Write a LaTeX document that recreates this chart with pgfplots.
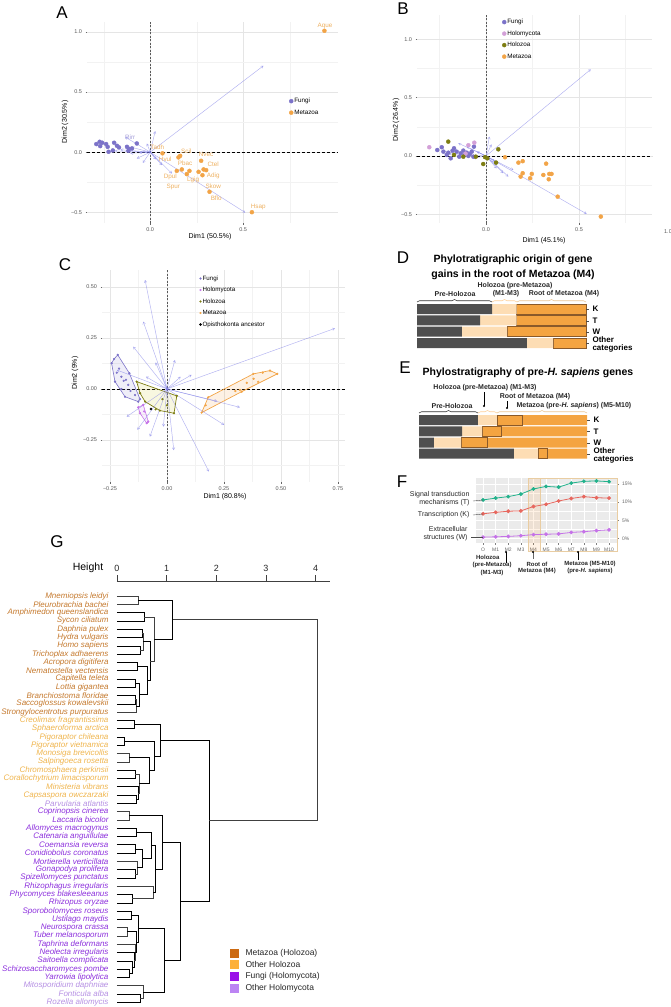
\documentclass[border=0pt]{standalone}
\usepackage{pgfplots}
\pgfplotsset{compat=1.18}
\usepackage{fontspec}
\setmainfont{Liberation Sans}
\usetikzlibrary{arrows.meta,decorations.pathreplacing}
\definecolor{fungi}{HTML}{7B72C8}
\definecolor{holomy}{HTML}{D3A0D8}
\definecolor{holozoa}{HTML}{7D7D12}
\definecolor{metazoa}{HTML}{F2A447}
\definecolor{metalab}{HTML}{EDB060}
\definecolor{arrowc}{HTML}{7C7CE6}
\definecolor{darkbar}{HTML}{4F4F4F}
\definecolor{peach}{HTML}{FDDDB4}
\definecolor{orbar}{HTML}{F4A441}
\definecolor{edgebr}{HTML}{8A5A2A}
\definecolor{tanbox}{HTML}{E9CDA2}
\definecolor{lgreen}{HTML}{22B28C}
\definecolor{lred}{HTML}{E7675E}
\definecolor{lpurp}{HTML}{C572E8}
\definecolor{gMeta}{HTML}{C4782C}
\definecolor{gOHol}{HTML}{EFB44C}
\definecolor{gFun}{HTML}{8B2EDC}
\definecolor{gOHm}{HTML}{B58FE3}
\definecolor{sqMeta}{HTML}{CC6A12}
\definecolor{sqOHol}{HTML}{FDB03A}
\definecolor{sqFun}{HTML}{9A10E8}
\definecolor{sqOHm}{HTML}{BC84F3}
\definecolor{dendro}{HTML}{404040}
\tikzset{lf/.style={anchor=east, xshift=-5pt, font=\fontsize{8}{8}\selectfont\itshape}}
\pgfplotsset{
 pca/.style={scale only axis, anchor=south west, clip=false,
  axis lines*=left, axis line style={draw=none},
  grid=both, major grid style={draw=black!10,line width=0.45pt},
  minor grid style={draw=black!5,line width=0.3pt},
  tick align=outside, major tick length=1.5pt, minor tick length=0pt,
  tick style={draw=black!60,line width=0.4pt},
  tick label style={font=\fontsize{5.5}{6}\selectfont, text=black!65},
  /pgf/number format/assume math mode=true,
  legend cell align=left,
  legend image code/.code={\draw[mark repeat=2,mark phase=2,##1] plot coordinates {(0cm,0cm) (0.08cm,0cm) (0.16cm,0cm)};},
  legend style={draw=none, fill=none, anchor=north west, inner sep=0pt, row sep=3.5pt,
    font=\fontsize{6.3}{7}\selectfont,
    nodes={inner sep=1pt, text height=4.6pt, text depth=1.4pt}},
 },
 arr/.style={forget plot, arrowc, opacity=0.6, line width=0.45pt, -{Straight Barb[length=2.2pt,width=2.6pt]}},
 ptm/.style={only marks, mark=*, mark size=2pt, mark options={solid}},
 zeroh/.style={forget plot, black, line width=0.6pt, dash pattern=on 3pt off 2pt},
 zerov/.style={forget plot, black!65, line width=0.9pt, dash pattern=on 2pt off 1.5pt},
}
\begin{document}
\begin{tikzpicture}
\useasboundingbox (0,0) rectangle (670pt,-1007pt);

% ---------------- Panel A ----------------
\begin{axis}[pca, at={(87pt,-223pt)}, width=251pt, height=201pt,
 xmin=-0.34, xmax=1.01, ymin=-0.59, ymax=1.083,
 xtick={0,0.5}, xticklabels={0.0,0.5}, minor xtick={-0.25,0.25,0.75},
 ytick={-0.5,0,0.5,1}, yticklabels={−0.5,0.0,0.5,1.0}, minor ytick={-0.25,0.25,0.75},
 legend style={at={(0.805,0.627)}}]
\addplot[zeroh] coordinates {(-0.34,0) (1.01,0)};
\addplot[zerov] coordinates {(0,-0.59) (0,1.083)};
\addplot[arr] coordinates {(0,0) (0.609,0.719)};
\addplot[arr] coordinates {(0,0) (0.511,-0.503)};
\addplot[arr] coordinates {(0,0) (-0.134,0.125)};
\addplot[arr] coordinates {(0,0) (-0.107,-0.01)};
\addplot[arr] coordinates {(0,0) (-0.072,-0.053)};
\addplot[arr] coordinates {(0,0) (0.027,0.175)};
\addplot[arr] coordinates {(0,0) (0.063,-0.108)};
\addplot[arr] coordinates {(0,0) (0.117,-0.178)};
\addplot[arr] coordinates {(0,0) (-0.018,0.072)};
\addplot[arr] coordinates {(0,0) (-0.06,-0.005)};
\addplot[arr] coordinates {(0,0) (-0.16,0.02)};
\addplot[arr] coordinates {(0,0) (-0.1,0.04)};
\addplot[arr] coordinates {(0,0) (-0.04,-0.09)};
\addplot[arr] coordinates {(0,0) (0.03,-0.06)};
\addplot[arr] coordinates {(0,0) (-0.19,0.01)};
\addplot[ptm, fungi] coordinates {(-0.290,0.067) (-0.272,0.086) (-0.258,0.078) (-0.269,0.05) (-0.237,0.067) (-0.229,0.044) (-0.194,0.078) (-0.179,0.053) (-0.168,0.039) (-0.125,0.044) (-0.115,0.028) (-0.072,0.072) (-0.224,0.003) (-0.201,0.014) (-0.117,0.011) (-0.098,0.031)};
\addlegendentry{Fungi}
\addplot[ptm, metazoa] coordinates {(0.066,-0.01) (0.152,-0.044) (0.161,-0.031) (0.274,-0.072) (0.143,-0.156) (0.17,-0.144) (0.197,-0.183) (0.211,-0.156) (0.26,-0.164) (0.287,-0.144) (0.301,-0.15) (0.281,-0.192) (0.319,-0.33) (0.547,-0.50) (0.937,1.01)};
\addlegendentry{Metazoa}
\begin{scope}[font=\fontsize{6.3}{7}\selectfont, text=metalab]
\node at (axis cs:0.94,1.05) {Aque};
\node at (axis cs:0.194,0.008) {Scil};
\node at (axis cs:0.30,-0.017) {Nvec};
\node at (axis cs:0.339,-0.1) {Ctel};
\node at (axis cs:0.188,-0.092) {Pbac};
\node at (axis cs:0.081,-0.058) {Hvul};
\node at (axis cs:0.038,0.042) {Tadh};
\node at (axis cs:0.108,-0.208) {Dpul};
\node at (axis cs:0.124,-0.29) {Spur};
\node at (axis cs:0.231,-0.233) {Lgig};
\node at (axis cs:0.339,-0.2) {Adig};
\node at (axis cs:0.339,-0.283) {Skow};
\node at (axis cs:0.355,-0.383) {Bflo};
\node at (axis cs:0.581,-0.458) {Hsap};
\node[text=fungi!70] at (axis cs:-0.108,0.125) {Rirr};
\end{scope}
\end{axis}

% ---------------- Panel B ----------------
\begin{axis}[pca, at={(417pt,-223pt)}, width=235pt, height=208pt,
 xmin=-0.371, xmax=0.892, ymin=-0.575, ymax=1.209,
 xtick={0,0.5}, xticklabels={0.0,0.5}, minor xtick={-0.25,0.25,0.75},
 ytick={-0.5,0,0.5,1}, yticklabels={−0.5,0.0,0.5,1.0}, minor ytick={-0.25,0.25,0.75},
 legend style={at={(0.362,0.986)}}]
\addplot[zeroh] coordinates {(-0.371,0) (0.892,0)};
\addplot[zerov] coordinates {(0,-0.575) (0,1.209)};
\addplot[arr] coordinates {(0,0) (0.563,0.743)};
\addplot[arr] coordinates {(0,0) (0.541,-0.497)};
\addplot[arr] coordinates {(0,0) (0.018,0.166)};
\addplot[arr] coordinates {(0,0) (-0.149,0.109)};
\addplot[arr] coordinates {(0,0) (0.057,-0.106)};
\addplot[arr] coordinates {(0,0) (0.12,-0.177)};
\addplot[arr] coordinates {(0,0) (0.147,-0.12)};
\addplot[arr] coordinates {(0,0) (0.048,-0.049)};
\addplot[arr] coordinates {(0,0) (-0.104,0.08)};
\addplot[arr] coordinates {(0,0) (-0.05,0.037)};
\addplot[arr] coordinates {(0,0) (0.093,-0.148)};
\addplot[arr] coordinates {(0,0) (-0.2,0.02)};
\addplot[arr] coordinates {(0,0) (-0.07,-0.02)};
\addplot[arr] coordinates {(0,0) (0.03,0.1)};
\addplot[ptm, fungi] coordinates {(-0.262,0.051) (-0.238,0.075) (-0.229,0.037) (-0.203,0.028) (-0.172,0.066) (-0.158,0.037) (-0.136,0.023) (-0.122,0.046) (-0.104,0.028) (-0.086,0.017) (-0.077,0.037) (-0.19,-0.02) (-0.211,0.009) (-0.068,-0.006) (-0.144,-0.006) (-0.065,0.08) (-0.18,0.045) (-0.115,0.01) (-0.095,0.0)};
\addlegendentry{Fungi}
\addplot[ptm, holomy] coordinates {(-0.305,0.075) (-0.095,0.092) (-0.063,0.114) (-0.11,0.02)};
\addlegendentry{Holomycota}
\addplot[ptm, holozoa] coordinates {(-0.203,0.123) (-0.172,0.009) (-0.122,-0.006) (-0.055,-0.006) (-0.015,-0.069) (0.007,-0.02) (0.066,0.057) (0.054,-0.057) (-0.005,-0.01)};
\addlegendentry{Holozoa}
\addplot[ptm, metazoa] coordinates {(0.102,-0.011) (0.174,-0.057) (0.197,-0.045) (0.323,-0.066) (0.197,-0.148) (0.246,-0.154) (0.186,-0.177) (0.237,-0.191) (0.308,-0.163) (0.34,-0.154) (0.352,-0.154) (0.337,-0.2) (0.385,-0.349) (0.617,-0.52)};
\addlegendentry{Metazoa}
\end{axis}

% ---------------- Panel C ----------------
\begin{axis}[pca, at={(102pt,-482pt)}, width=243pt, height=212pt,
 xmin=-0.285, xmax=0.781, ymin=-0.456, ymax=0.583,
 xtick={-0.25,0,0.25,0.5,0.75}, xticklabels={−0.25,0.00,0.25,0.50,0.75}, minor xtick={-0.125,0.125,0.375,0.625},
 ytick={-0.25,0,0.25,0.5}, yticklabels={−0.25,0.00,0.25,0.50}, minor ytick={-0.375,-0.125,0.125,0.375},
 legend style={at={(0.40,0.98)}, font=\fontsize{6.2}{7}\selectfont}]
\addplot[zeroh] coordinates {(-0.285,0) (0.781,0)};
\addplot[zerov] coordinates {(0,-0.456) (0,0.583)};
\addplot[forget plot, draw=fungi, fill=fungi, fill opacity=0.12, line width=0.6pt] coordinates {(-0.243,0.126) (-0.232,0.147) (-0.216,0.167) (-0.165,0.077) (-0.118,-0.05) (-0.126,-0.062) (-0.184,-0.038) (-0.228,0.036) (-0.243,0.126)};
\addplot[forget plot, draw=lpurp, fill=lpurp, fill opacity=0.12, line width=0.6pt] coordinates {(-0.126,-0.09) (-0.104,-0.078) (-0.082,-0.16) (-0.089,-0.168) (-0.118,-0.119) (-0.126,-0.09)};
\addplot[forget plot, draw=holozoa, fill=yellow!60!holozoa, fill opacity=0.15, line width=0.7pt] coordinates {(-0.133,0.036) (0.043,-0.034) (0.031,-0.119) (-0.031,-0.106) (-0.096,-0.062) (-0.118,-0.021) (-0.133,0.036)};
\addplot[forget plot, draw=metazoa, fill=metazoa, fill opacity=0.15, line width=0.7pt] coordinates {(0.152,-0.116) (0.181,-0.041) (0.379,0.074) (0.452,0.09) (0.484,0.074) (0.328,-0.013) (0.152,-0.116)};
\addplot[arr] coordinates {(0,0) (-0.096,0.534)};
\addplot[arr] coordinates {(0,0) (-0.104,0.33)};
\addplot[arr] coordinates {(0,0) (-0.148,0.207)};
\addplot[arr] coordinates {(0,0) (0.737,0.297)};
\addplot[arr] coordinates {(0,0) (0.108,0.069)};
\addplot[arr] coordinates {(0,0) (0.035,0.142)};
\addplot[arr] coordinates {(0,0) (-0.092,0.06)};
\addplot[arr] coordinates {(0,0) (0.32,-0.09)};
\addplot[arr] coordinates {(0,0) (0.251,-0.176)};
\addplot[arr] coordinates {(0,0) (0.184,-0.405)};
\addplot[arr] coordinates {(0,0) (-0.075,-0.234)};
\addplot[arr] coordinates {(0,0) (-0.177,-0.136)};
\addplot[arr] coordinates {(0,0) (-0.016,-0.185)};
\addplot[arr] coordinates {(0,0) (-0.22,0.093)};
\addplot[arr] coordinates {(0,0) (0.06,0.06)};
\addplot[arr] coordinates {(0,0) (-0.05,0.13)};
\addplot[arr] coordinates {(0,0) (0.03,-0.3)};
\addplot[arr] coordinates {(0,0) (-0.13,-0.2)};
\addplot[arr] coordinates {(0,0) (0.22,-0.06)};
\addplot[ptm, fungi, mark size=0.9pt] coordinates {(-0.232,0.147) (-0.216,0.167) (-0.165,0.077) (-0.118,-0.05) (-0.126,-0.062) (-0.184,-0.038) (-0.228,0.036) (-0.243,0.126) (-0.2,0.06) (-0.19,0.04) (-0.18,0.045) (-0.21,0.1) (-0.16,-0.01) (-0.14,-0.03) (-0.2,0.0) (-0.22,0.08) (-0.17,0.02)};
\addlegendentry{Fungi}
\addplot[ptm, lpurp, mark size=0.9pt] coordinates {(-0.126,-0.09) (-0.104,-0.078) (-0.082,-0.16) (-0.089,-0.168) (-0.118,-0.119) (-0.1,-0.11)};
\addlegendentry{Holomycota}
\addplot[ptm, holozoa, mark size=0.9pt] coordinates {(-0.133,0.036) (0.043,-0.034) (0.031,-0.119) (-0.031,-0.106) (-0.096,-0.062) (-0.118,-0.021) (-0.05,-0.1) (0.0,-0.08) (-0.02,-0.05)};
\addlegendentry{Holozoa}
\addplot[ptm, metazoa, mark size=0.9pt] coordinates {(0.152,-0.116) (0.181,-0.041) (0.379,0.074) (0.452,0.09) (0.484,0.074) (0.328,-0.013) (0.17,-0.08) (0.35,0.03) (0.38,0.05) (0.4,0.035) (0.3,-0.01) (0.42,0.08) (0.32,-0.005)};
\addlegendentry{Metazoa}
\addplot[ptm, black, mark size=1.1pt] coordinates {(-0.07,-0.098)};
\addlegendentry{Opisthokonta ancestor}
\end{axis}

% ---------------- Panel D ----------------
\begin{axis}[at={(417pt,-349pt)}, anchor=south west, scale only axis, width=169pt, height=46pt,
 xmin=0, xmax=100, ymin=0.47, ymax=4.53, y dir=reverse, hide axis, xbar stacked, bar width=10pt, clip=false]
\addplot[fill=darkbar, draw=none] coordinates {(44.4,1) (37.3,2) (26.6,3) (65.0,4)};
\addplot[fill=peach, draw=none] coordinates {(14.6,1) (21.7,2) (26.7,3) (15.5,4)};
\addplot[fill=orbar, draw=edgebr, line width=0.6pt] coordinates {(41.0,1) (41.0,2) (46.7,3) (19.5,4)};
\end{axis}

% ---------------- Panel E ----------------
\begin{axis}[at={(419pt,-459.3pt)}, anchor=south west, scale only axis, width=168pt, height=44.8pt,
 xmin=0, xmax=100, ymin=0.5, ymax=4.5, y dir=reverse, hide axis, xbar stacked, bar width=10pt, clip=false]
\addplot[fill=darkbar, draw=none] coordinates {(35.1,1) (25.6,2) (8.9,3) (56.5,4)};
\addplot[fill=peach, draw=none] coordinates {(11.3,1) (11.9,2) (16.1,3) (14.3,4)};
\addplot[fill=orbar, draw=edgebr, line width=0.6pt] coordinates {(14.9,1) (11.3,2) (15.5,3) (5.4,4)};
\addplot[fill=orbar, draw=none] coordinates {(38.7,1) (51.2,2) (59.5,3) (23.8,4)};
\end{axis}

% ---------------- Panel F ----------------
\begin{axis}[at={(476pt,-543pt)}, anchor=south west, scale only axis, width=141pt, height=65pt,
 xmin=-0.56, xmax=10.63, ymin=-1.2, ymax=16.6, clip=false,
 axis background/.style={fill=black!8}, axis line style={draw=none},
 grid=both, major grid style={white, line width=0.6pt}, minor grid style={white, line width=0.3pt},
 xtick={0,1,2,3,4,5,6,7,8,9,10}, xticklabels={O,M1,M2,M3,M4,M5,M6,M7,M8,M9,M10},
 ytick={0,5,10,15}, yticklabels={0\%,5\%,10\%,15\%}, minor ytick={2.5,7.5,12.5},
 xtick pos=left, ytick pos=right, yticklabel pos=right,
 tick align=outside, major tick length=1.5pt, minor tick length=0pt, tick style={black!50, line width=0.4pt},
 tick label style={font=\fontsize{5}{5}\selectfont, text=black!60},
 /pgf/number format/assume math mode=true]
\draw[tanbox, line width=0.8pt, fill=orange, fill opacity=0.10] (axis cs:3.57,16.6) rectangle (axis cs:4.52,-3.6);
\draw[tanbox, line width=0.8pt] (axis cs:4.52,16.6) rectangle (axis cs:10.63,-3.6);
\addplot[lgreen, line width=0.8pt, mark=*, mark size=1.5pt] coordinates {(0,10.6) (1,11.1) (2,11.5) (3,12.2) (4,13.6) (5,14.3) (6,14.1) (7,15.2) (8,15.7) (9,15.8) (10,15.6)};
\addplot[lred, line width=0.8pt, mark=*, mark size=1.5pt] coordinates {(0,6.8) (1,7.2) (2,7.5) (3,7.6) (4,8.8) (5,9.4) (6,10.3) (7,11.0) (8,11.5) (9,11.2) (10,11.1)};
\addplot[lpurp, line width=0.8pt, mark=*, mark size=1.5pt] coordinates {(0,0.4) (1,0.5) (2,0.6) (3,0.8) (4,1.1) (5,1.2) (6,1.3) (7,1.7) (8,1.9) (9,2.2) (10,2.4)};
\end{axis}

% ---------------- Panel G ----------------
\begin{axis}[at={(117pt,-1006pt)}, anchor=south west, scale only axis, width=213pt, height=425pt,
 xmin=0, xmax=4.29, ymin=-50.46, ymax=0.81, clip=false,
 axis x line*=top, axis y line=none, axis line style={black!75, line width=0.6pt, -},
 xtick={0,1,2,3,4}, tick align=outside, major tick length=6pt, tick style={black!75, line width=0.6pt},
 tick label style={font=\fontsize{9}{9}\selectfont, text=black!85},
 /pgf/number format/assume math mode=true,
 cycle list={{dendro, line width=0.6pt, mark=none, solid}}]
\addplot coordinates {(0,-1) (0.43,-1) (0.43,-2) (0,-2)};
\addplot coordinates {(0,-3) (0.54,-3) (0.54,-4) (0,-4)};
\addplot coordinates {(0,-5) (0.50,-5) (0.50,-6) (0,-6)};
\addplot coordinates {(0,-7) (0.46,-7) (0.46,-8) (0,-8)};
\addplot coordinates {(0.50,-5.5) (0.52,-5.5) (0.52,-7.5) (0.46,-7.5)};
\addplot coordinates {(0,-9) (0.41,-9) (0.41,-10) (0,-10)};
\addplot coordinates {(0,-11) (0.37,-11) (0.37,-12) (0,-12)};
\addplot coordinates {(0,-13) (0.36,-13) (0.36,-14) (0,-14)};
\addplot coordinates {(0.36,-13.5) (0.38,-13.5) (0.38,-15) (0,-15)};
\addplot coordinates {(0.37,-11.5) (0.45,-11.5) (0.45,-14.25) (0.38,-14.25)};
\addplot coordinates {(0.41,-9.5) (0.60,-9.5) (0.60,-12.875) (0.45,-12.875)};
\addplot coordinates {(0.52,-6.5) (0.665,-6.5) (0.665,-11.1875) (0.60,-11.1875)};
\addplot coordinates {(0.54,-3.5) (0.746,-3.5) (0.746,-8.844) (0.665,-8.844)};
\addplot coordinates {(0.43,-1.5) (1.12,-1.5) (1.12,-6.172) (0.746,-6.172)};
\addplot coordinates {(0,-16) (0.35,-16) (0.35,-17) (0,-17)};
\addplot coordinates {(0,-18) (0.15,-18) (0.15,-19) (0,-19)};
\addplot coordinates {(0,-20) (0.25,-20) (0.25,-21) (0,-21)};
\addplot coordinates {(0,-22) (0.36,-22) (0.36,-23) (0,-23)};
\addplot coordinates {(0,-25) (0.38,-25) (0.38,-26) (0,-26)};
\addplot coordinates {(0,-24) (0.42,-24) (0.42,-25.5) (0.38,-25.5)};
\addplot coordinates {(0.36,-22.5) (0.45,-22.5) (0.45,-24.75) (0.42,-24.75)};
\addplot coordinates {(0.25,-20.5) (0.645,-20.5) (0.645,-23.625) (0.45,-23.625)};
\addplot coordinates {(0.15,-18.5) (0.75,-18.5) (0.75,-22.0625) (0.645,-22.0625)};
\addplot coordinates {(0.35,-16.5) (0.88,-16.5) (0.88,-20.281) (0.75,-20.281)};
\addplot coordinates {(0,-27) (0.25,-27) (0.25,-28) (0,-28)};
\addplot coordinates {(0,-29) (0.38,-29) (0.38,-30) (0,-30)};
\addplot coordinates {(0,-31) (0.36,-31) (0.36,-32) (0,-32)};
\addplot coordinates {(0,-34) (0.37,-34) (0.37,-35) (0,-35)};
\addplot coordinates {(0,-33) (0.41,-33) (0.41,-34.5) (0.37,-34.5)};
\addplot coordinates {(0.36,-31.5) (0.50,-31.5) (0.50,-33.75) (0.41,-33.75)};
\addplot coordinates {(0.38,-29.5) (0.68,-29.5) (0.68,-32.625) (0.50,-32.625)};
\addplot coordinates {(0,-37) (0.31,-37) (0.31,-38) (0,-38)};
\addplot coordinates {(0,-36) (0.72,-36) (0.72,-37.5) (0.31,-37.5)};
\addplot coordinates {(0.68,-31.0625) (0.78,-31.0625) (0.78,-36.75) (0.72,-36.75)};
\addplot coordinates {(0.25,-27.5) (0.92,-27.5) (0.92,-33.906) (0.78,-33.906)};
\addplot coordinates {(0,-39) (0.28,-39) (0.28,-40) (0,-40)};
\addplot coordinates {(0,-41) (0.20,-41) (0.20,-42) (0,-42)};
\addplot coordinates {(0,-46) (0.25,-46) (0.25,-47) (0,-47)};
\addplot coordinates {(0,-45) (0.31,-45) (0.31,-46.5) (0.25,-46.5)};
\addplot coordinates {(0,-44) (0.35,-44) (0.35,-45.75) (0.31,-45.75)};
\addplot coordinates {(0,-43) (0.37,-43) (0.37,-44.875) (0.35,-44.875)};
\addplot coordinates {(0.20,-41.5) (0.39,-41.5) (0.39,-43.9375) (0.37,-43.9375)};
\addplot coordinates {(0.28,-39.5) (0.42,-39.5) (0.42,-42.719) (0.39,-42.719)};
\addplot coordinates {(0,-49) (0.46,-49) (0.46,-50) (0,-50)};
\addplot coordinates {(0,-48) (0.53,-48) (0.53,-49.5) (0.46,-49.5)};
\addplot coordinates {(0.42,-41.109) (0.95,-41.109) (0.95,-48.75) (0.53,-48.75)};
\addplot coordinates {(0.92,-30.703) (1.28,-30.703) (1.28,-44.93) (0.95,-44.93)};
\addplot coordinates {(0.88,-18.39) (1.86,-18.39) (1.86,-37.816) (1.28,-37.816)};
\addplot coordinates {(1.12,-3.836) (4.04,-3.836) (4.04,-28.103) (1.86,-28.103)};
\node[lf, text=gMeta] at (axis cs:0,-1) {Mnemiopsis leidyi};
\node[lf, text=gMeta] at (axis cs:0,-2) {Pleurobrachia bachei};
\node[lf, text=gMeta] at (axis cs:0,-3) {Amphimedon queenslandica};
\node[lf, text=gMeta] at (axis cs:0,-4) {Sycon ciliatum};
\node[lf, text=gMeta] at (axis cs:0,-5) {Daphnia pulex};
\node[lf, text=gMeta] at (axis cs:0,-6) {Hydra vulgaris};
\node[lf, text=gMeta] at (axis cs:0,-7) {Homo sapiens};
\node[lf, text=gMeta] at (axis cs:0,-8) {Trichoplax adhaerens};
\node[lf, text=gMeta] at (axis cs:0,-9) {Acropora digitifera};
\node[lf, text=gMeta] at (axis cs:0,-10) {Nematostella vectensis};
\node[lf, text=gMeta] at (axis cs:0,-11) {Capitella teleta};
\node[lf, text=gMeta] at (axis cs:0,-12) {Lottia gigantea};
\node[lf, text=gMeta] at (axis cs:0,-13) {Branchiostoma floridae};
\node[lf, text=gMeta] at (axis cs:0,-14) {Saccoglossus kowalevskii};
\node[lf, text=gMeta] at (axis cs:0,-15) {Strongylocentrotus purpuratus};
\node[lf, text=gOHol] at (axis cs:0,-16) {Creolimax fragrantissima};
\node[lf, text=gOHol] at (axis cs:0,-17) {Sphaeroforma arctica};
\node[lf, text=gOHol] at (axis cs:0,-18) {Pigoraptor chileana};
\node[lf, text=gOHol] at (axis cs:0,-19) {Pigoraptor vietnamica};
\node[lf, text=gOHol] at (axis cs:0,-20) {Monosiga brevicollis};
\node[lf, text=gOHol] at (axis cs:0,-21) {Salpingoeca rosetta};
\node[lf, text=gOHol] at (axis cs:0,-22) {Chromosphaera perkinsii};
\node[lf, text=gOHol] at (axis cs:0,-23) {Corallochytrium limacisporum};
\node[lf, text=gOHol] at (axis cs:0,-24) {Ministeria vibrans};
\node[lf, text=gOHol] at (axis cs:0,-25) {Capsaspora owczarzaki};
\node[lf, text=gOHm] at (axis cs:0,-26) {Parvularia atlantis};
\node[lf, text=gFun] at (axis cs:0,-27) {Coprinopsis cinerea};
\node[lf, text=gFun] at (axis cs:0,-28) {Laccaria bicolor};
\node[lf, text=gFun] at (axis cs:0,-29) {Allomyces macrogynus};
\node[lf, text=gFun] at (axis cs:0,-30) {Catenaria anguillulae};
\node[lf, text=gFun] at (axis cs:0,-31) {Coemansia reversa};
\node[lf, text=gFun] at (axis cs:0,-32) {Conidiobolus coronatus};
\node[lf, text=gFun] at (axis cs:0,-33) {Mortierella verticillata};
\node[lf, text=gFun] at (axis cs:0,-34) {Gonapodya prolifera};
\node[lf, text=gFun] at (axis cs:0,-35) {Spizellomyces punctatus};
\node[lf, text=gFun] at (axis cs:0,-36) {Rhizophagus irregularis};
\node[lf, text=gFun] at (axis cs:0,-37) {Phycomyces blakesleeanus};
\node[lf, text=gFun] at (axis cs:0,-38) {Rhizopus oryzae};
\node[lf, text=gFun] at (axis cs:0,-39) {Sporobolomyces roseus};
\node[lf, text=gFun] at (axis cs:0,-40) {Ustilago maydis};
\node[lf, text=gFun] at (axis cs:0,-41) {Neurospora crassa};
\node[lf, text=gFun] at (axis cs:0,-42) {Tuber melanosporum};
\node[lf, text=gFun] at (axis cs:0,-43) {Taphrina deformans};
\node[lf, text=gFun] at (axis cs:0,-44) {Neolecta irregularis};
\node[lf, text=gFun] at (axis cs:0,-45) {Saitoella complicata};
\node[lf, text=gFun] at (axis cs:0,-46) {Schizosaccharomyces pombe};
\node[lf, text=gFun] at (axis cs:0,-47) {Yarrowia lipolytica};
\node[lf, text=gOHm] at (axis cs:0,-48) {Mitosporidium daphniae};
\node[lf, text=gOHm] at (axis cs:0,-49) {Fonticula alba};
\node[lf, text=gOHm] at (axis cs:0,-50) {Rozella allomycis};
\end{axis}

% ---------------- free text ----------------
\begin{scope}[x=1pt,y=-1pt]
\begin{scope}[font=\fontsize{17}{17}\selectfont]
\node at (62,13) {A};
\node at (403,9) {B};
\node at (65,265) {C};
\node at (403,258) {D};
\node at (405,368) {E};
\node at (402,482) {F};
\node at (57,542) {G};
\end{scope}
\begin{scope}[font=\fontsize{7}{8}\selectfont]
\node[rotate=90] at (65,122) {Dim2 (30.5\%)};
\node at (210,237) {Dim1 (50.5\%)};
\node[rotate=90] at (396,120) {Dim2 (26.4\%)};
\node at (544,241) {Dim1 (45.1\%)};
\node[rotate=90] at (75,373) {Dim2 (9\%)};
\node at (225,497) {Dim1 (80.8\%)};
\end{scope}
\node[font=\fontsize{5.5}{6}\selectfont, text=black!65] at (668,232) {1.0};
\begin{scope}[font=\bfseries\fontsize{10.5}{12}\selectfont]
\node at (513,260) {Phylotratigraphic origin of gene};
\node at (513,275) {gains in the root of Metazoa (M4)};
\node at (528,373) {Phylostratigraphy of pre-\textit{H. sapiens} genes};
\end{scope}
\begin{scope}[font=\bfseries\fontsize{7}{8}\selectfont, text=black!85]
\node at (455,294) {Pre-Holozoa};
\node at (515,286) {Holozoa (pre-Metazoa)};
\node at (506,294) {(M1-M3)};
\node at (564,294) {Root of Metazoa (M4)};
\node at (485,388) {Holozoa (pre-Metazoa) (M1-M3)};
\node at (535,397) {Root of Metazoa (M4)};
\node[anchor=west] at (513,406) {Metazoa (pre-\textit{H. sapiens}) (M5-M10)};
\node at (452,406) {Pre-Holozoa};
\end{scope}
\draw[black!80, line width=0.6pt, decorate, decoration={brace, amplitude=2.5pt}] (417,302) -- (492,302);
\draw[peach!85!orange, line width=0.6pt, decorate, decoration={brace, amplitude=2.5pt}] (492,302) -- (517,302);
\draw[tanbox!90!orange, line width=0.6pt, decorate, decoration={brace, amplitude=2.5pt}] (517,302) -- (586,302);
\draw[black!80, line width=0.6pt, decorate, decoration={brace, amplitude=2.5pt}] (419,413) -- (478,413);
\draw[peach!85!orange, line width=0.6pt, decorate, decoration={brace, amplitude=2.5pt}] (478,413) -- (497,413);
\draw[tanbox!90!orange, line width=0.6pt, decorate, decoration={brace, amplitude=2.5pt}] (497,413) -- (587,413);
\draw[black, line width=0.5pt] (484,392) -- (484,406);
\fill (484,406) circle (1.2);
\draw[black, line width=0.5pt] (507,401) -- (507,408);
\fill (507,408) circle (1.2);
\begin{scope}[font=\bfseries\fontsize{8}{8}\selectfont]
\node[anchor=west] at (589,309) {K};
\node[anchor=west] at (589,321) {T};
\node[anchor=west] at (589,332) {W};
\node[anchor=west, align=left, font=\bfseries\fontsize{8}{7.6}\selectfont] at (589,344.5) {Other\\categories};
\node[anchor=west] at (590,420) {K};
\node[anchor=west] at (590,431.3) {T};
\node[anchor=west] at (590,442.7) {W};
\node[anchor=west, align=left, font=\bfseries\fontsize{8}{7.6}\selectfont] at (590,455.5) {Other\\categories};
\end{scope}
\foreach \yy in {309,321,332,343} {\draw[black!70, line width=0.4pt] (586,\yy) -- (589,\yy);}
\foreach \yy in {420,431.3,442.7,453.7} {\draw[black!70, line width=0.4pt] (587,\yy) -- (590,\yy);}
\begin{scope}[font=\fontsize{7}{7.5}\selectfont, text=black!85]
\node[anchor=east, align=right] at (473,498.5) {Signal transduction\\mechanisms (T)};
\node[anchor=east] at (473,515) {Transcription (K)};
\node[anchor=east, align=right] at (471,533.5) {Extracellular\\structures (W)};
\end{scope}
\draw[black!70, line width=0.4pt] (473,501) -- (483,500);
\draw[black!70, line width=0.4pt] (473,515) -- (483,514);
\draw[black!70, line width=0.4pt] (471,537) -- (483,537);
\draw[black, line width=0.5pt] (506,552) -- (506,563);
\fill (506,552) circle (1.2);
\draw[black!60, line width=0.5pt] (533,552) -- (533,559);
\fill (533,552) circle (1.2);
\draw[black, line width=0.5pt] (578,552) -- (578,560);
\fill (578,552) circle (1.2);
\begin{scope}[font=\bfseries\fontsize{6}{7}\selectfont, text=black!85]
\node[anchor=east] at (503,557) {Holozoa};
\node at (492,565) {(pre-Metazoa)};
\node at (492,573) {(M1-M3)};
\node at (537,564) {Root of};
\node at (537,571) {Metazoa (M4)};
\node at (590,564) {Metazoa (M5-M10)};
\node at (590,571) {(pre-\textit{H. sapiens})};
\end{scope}
\node[font=\fontsize{10.5}{11}\selectfont] at (88,568) {Height};
\node[fill=sqMeta, minimum size=9pt, inner sep=0pt] at (234.7,953.3) {};
\node[fill=sqOHol, minimum size=9pt, inner sep=0pt] at (234.7,964.6) {};
\node[fill=sqFun, minimum size=9pt, inner sep=0pt] at (234.7,976.2) {};
\node[fill=sqOHm, minimum size=9pt, inner sep=0pt] at (234.7,988.3) {};
\begin{scope}[font=\fontsize{8.5}{9}\selectfont, text=black!85]
\node[anchor=west] at (242,953.3) {Metazoa (Holozoa)};
\node[anchor=west] at (242,964.6) {Other Holozoa};
\node[anchor=west] at (242,976.2) {Fungi (Holomycota)};
\node[anchor=west] at (242,988.3) {Other Holomycota};
\end{scope}
\end{scope}
\end{tikzpicture}
\end{document}
